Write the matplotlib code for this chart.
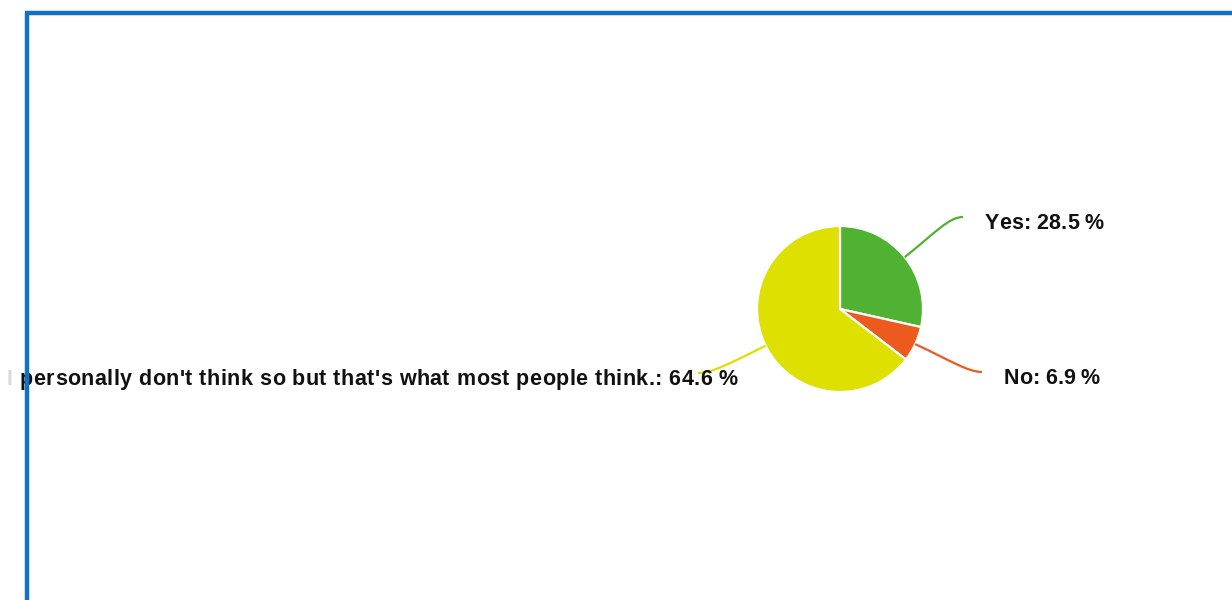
import matplotlib
matplotlib.use("Agg")
import matplotlib.pyplot as plt
from matplotlib.path import Path
from matplotlib.patches import PathPatch, Rectangle
from matplotlib.font_manager import FontProperties, findfont
from matplotlib.ft2font import FT2Font
import numpy as np

# Survey answers and their shares (%)
labels = ["Yes", "No", "I personally don't think so but that's what most people think."]
shares = [28.5, 6.9, 64.6]
colors = ["#4fb233", "#ec5a1d", "#dde000"]

W, H = 1232, 600
DPI = 100
fig = plt.figure(figsize=(W / DPI, H / DPI), dpi=DPI)
ax = fig.add_axes([0, 0, 1, 1])

cx, cy, r = 840, 291, 83
wedges, _ = ax.pie(shares, colors=colors, startangle=90, counterclock=False,
                   center=(cx, cy), radius=r, frame=True,
                   wedgeprops=dict(edgecolor="white", linewidth=1.6))
ax.set_xlim(0, W)
ax.set_ylim(0, H)
ax.set_aspect("equal")
ax.axis("off")

FS = 15.5
prop = FontProperties(family="Liberation Sans", weight="bold", size=FS)
ft = FT2Font(findfont(prop))
ft.set_size(FS, DPI)


def advances(s):
    return [ft.load_char(ord(c)).linearHoriAdvance / 65536.0 for c in s]


def spaced_text(s, x0, x1, y, color="#111111"):
    """Lay the string out char by char so it spans x0..x1 on baseline y."""
    adv = advances(s)
    extra = ((x1 - x0) - sum(adv)) / max(len(s) - 1, 1)
    x = x0
    for c, a in zip(s, adv):
        if c != " ":
            ax.text(x, y, c, ha="left", va="baseline", fontproperties=prop,
                    color=color, zorder=4)
        x += a + extra


# leader line end points and label extents (pixels, y up)
ends = [(963, H - 217), (982, H - 372), (698, H - 373)]
spans = [(985, 1104, H - 229), (1004, 1100, H - 384), (7, 738, H - 385)]

for w, lab, val, col, end, (x0, x1, yb) in zip(wedges, labels, shares, colors,
                                               ends, spans):
    mid = np.deg2rad((w.theta1 + w.theta2) / 2)
    d = np.array([np.cos(mid), np.sin(mid)])
    p0 = np.array([cx, cy]) + d * r
    p1 = p0 + d * 40
    side = 1 if end[0] > cx else -1
    p3 = np.array(end, dtype=float)
    p2 = p3 - np.array([side * 14, 0])
    path = Path([p0, p1, p2, p3],
                [Path.MOVETO, Path.CURVE4, Path.CURVE4, Path.CURVE4])
    ax.add_patch(PathPatch(path, fill=False, edgecolor=col, lw=1.6, zorder=3))
    spaced_text(f"{lab}: {val} %", x0, x1, yb)

# fade the strip at the far left edge, then draw the blue frame
ax.add_patch(Rectangle((0, 0), 12, H, facecolor="white", alpha=0.85,
                       edgecolor="none", zorder=5))
ax.add_patch(Rectangle((0, H - 11), W, 11, facecolor="white",
                       edgecolor="none", zorder=5))
ax.plot([27, 27], [0, H - 13], color="#0f72c4", lw=3.2, zorder=6,
        solid_capstyle="butt")
ax.plot([25.4, W], [H - 13, H - 13], color="#0f72c4", lw=3.2, zorder=6,
        solid_capstyle="butt")

fig.savefig("out.png", dpi=DPI)
